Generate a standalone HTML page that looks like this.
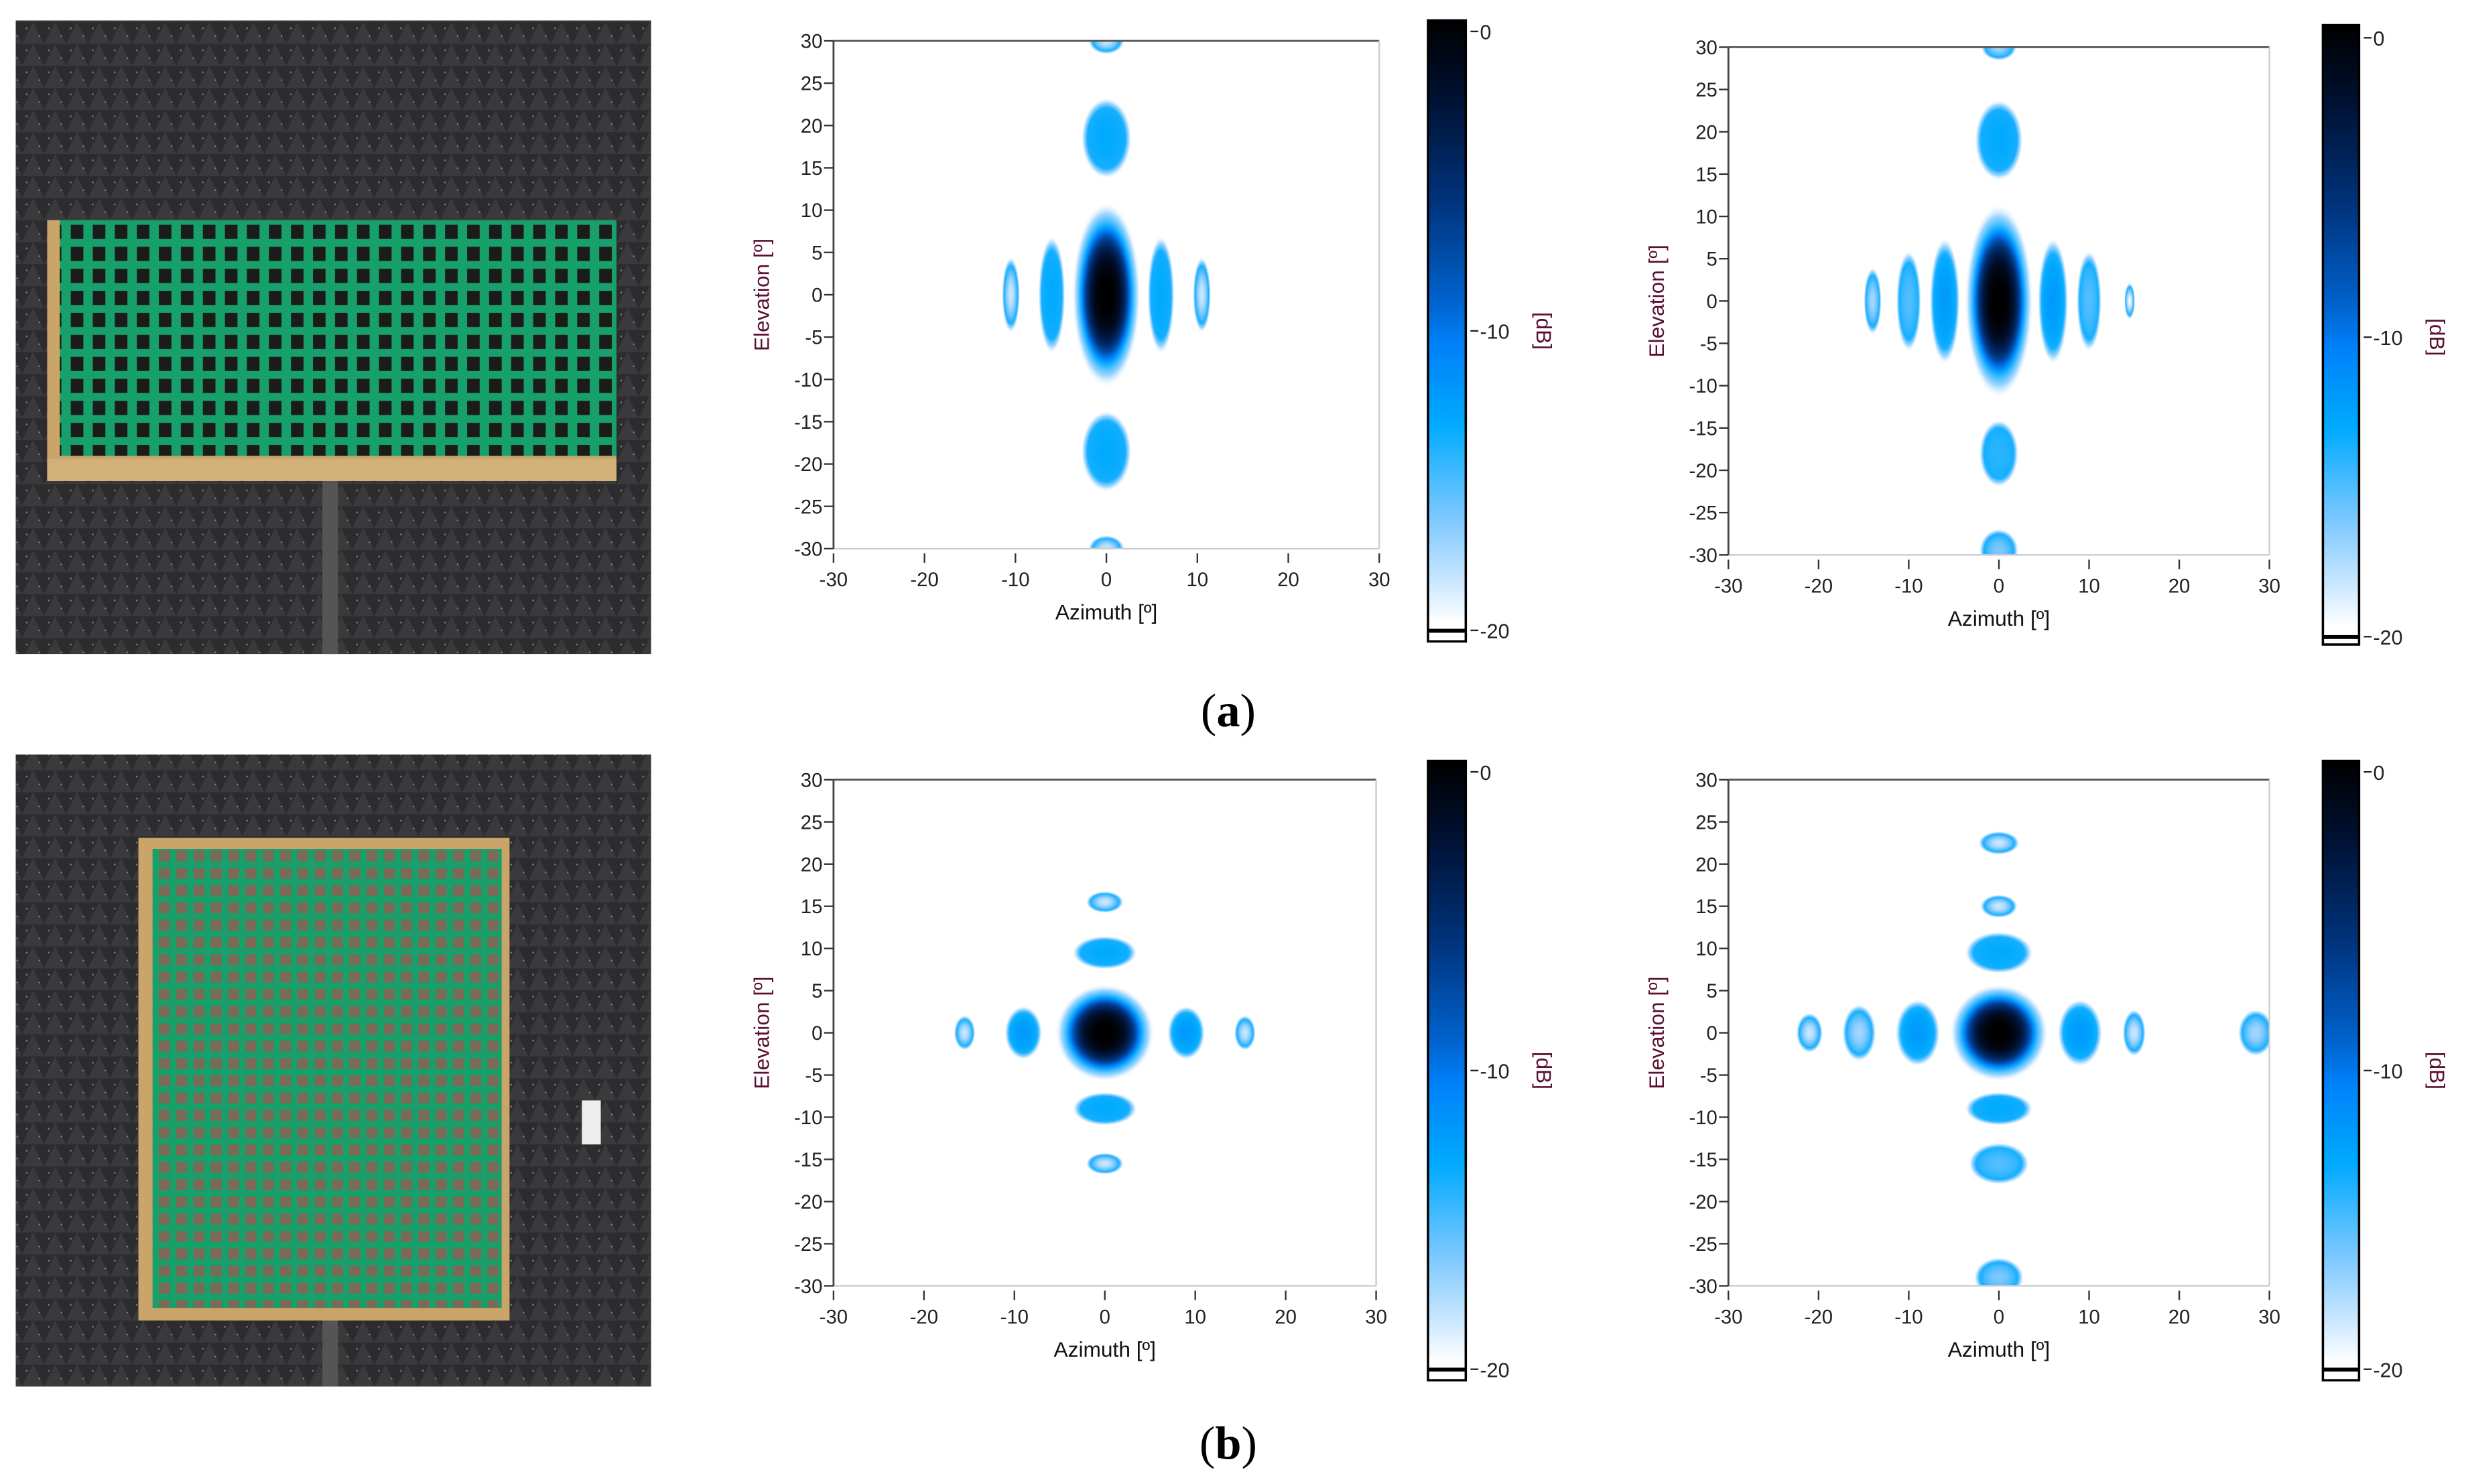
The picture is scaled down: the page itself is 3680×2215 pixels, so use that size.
<!DOCTYPE html>
<html><head><meta charset="utf-8"><style>html,body{margin:0;padding:0;background:#fff}svg{display:block}</style></head>
<body>
<svg id="fig" xmlns="http://www.w3.org/2000/svg" width="3680" height="2215" viewBox="0 0 1568 944" preserveAspectRatio="none" font-family="'Liberation Sans', 'DejaVu Sans', sans-serif">
<defs>
<linearGradient id="cbar" x1="0" y1="0" x2="0" y2="1">
<stop offset="0" stop-color="#000000"/><stop offset="0.12" stop-color="#001030"/><stop offset="0.3" stop-color="#003580"/><stop offset="0.45" stop-color="#0062cc"/><stop offset="0.52" stop-color="#0080f8"/><stop offset="0.65" stop-color="#00aaff"/><stop offset="0.8" stop-color="#7cc8ff"/><stop offset="0.9" stop-color="#c8e6ff"/><stop offset="0.97" stop-color="#ffffff"/>
</linearGradient>
<pattern id="foam" width="14" height="14" patternUnits="userSpaceOnUse"><rect width="14" height="14" fill="#2c2c2e"/><path d="M0 14 L7 0 L14 14" fill="#3a3a3c"/><circle cx="3" cy="4" r="0.6" fill="#777"/><circle cx="11" cy="9" r="0.5" fill="#888"/></pattern>
<pattern id="grid" width="14" height="14" patternUnits="userSpaceOnUse"><rect width="14" height="14" fill="#17a06a"/><rect x="3" y="3" width="8" height="9" fill="#1b1b1b"/></pattern>
<pattern id="gridb" width="11" height="11" patternUnits="userSpaceOnUse"><rect width="11" height="11" fill="#17a06a"/><rect x="2" y="2" width="7" height="7" fill="#7a6a58"/></pattern>
</defs>
<g id="photos">
<g>
<rect x="10" y="13" width="404" height="403" fill="url(#foam)"/>
<rect x="205" y="280" width="10" height="136" fill="#555"/>
<rect x="30" y="140" width="362" height="165" fill="#c9a56a"/>
<rect x="38" y="140" width="354" height="150" fill="url(#grid)"/>
<rect x="30" y="292" width="362" height="14" fill="#d2b07a"/>
</g>
<g>
<rect x="10" y="480" width="404" height="402" fill="url(#foam)"/>
<rect x="205" y="820" width="10" height="62" fill="#555"/>
<rect x="88" y="533" width="236" height="307" fill="#c9a56a"/>
<rect x="97" y="540" width="222" height="292" fill="url(#gridb)"/>
<rect x="370" y="700" width="12" height="28" fill="#eee"/>
</g>
</g>
<g id="charts"></g>
<text x="781" y="462" text-anchor="middle" font-family="'Liberation Serif', serif" font-size="30" fill="#000">(<tspan font-weight="bold">a</tspan>)</text>
<text x="781" y="928" text-anchor="middle" font-family="'Liberation Serif', serif" font-size="30" fill="#000">(<tspan font-weight="bold">b</tspan>)</text>
</svg>
<script>
// data: each lobe = [azimuth, elevation, peak dB, half-width deg, half-height deg]
const xTicks = [-30,-20,-10,0,10,20,30];
const yTicks = [30,25,20,15,10,5,0,-5,-10,-15,-20,-25,-30];
const cbTicks = [0,-10,-20];
const lobesAMid = [[0,0,0,3.8,11],[-6,0,-13,1.5,7],[6,0,-13,1.5,7],[-10.5,0,-18,1,4.5],[10.5,0,-18,1,4.5],[0,18.5,-13,2.8,4.8],[0,-18.5,-13,2.8,4.8],[0,30,-18,2,1.6],[0,-30,-18,2,1.6]];
const lobesARight = [[0,0,0,3.8,11.5],[-6,0,-12,1.7,7.5],[6,0,-12,1.7,7.5],[-10,0,-15,1.4,6],[10,0,-15,1.4,6],[-14,0,-17,1,4],[14.5,0,-19,0.6,2.2],[0,19,-13,2.7,4.8],[0,-18,-14,2.2,4],[0,30,-17,2,1.6],[0,-29.5,-16,2.2,2.6]];
const lobesBMid = [[0,0,0,5.5,5.8],[-9,0,-12,2.1,3.2],[9,0,-12,2.1,3.2],[-15.5,0,-18,1.2,2.1],[15.5,0,-18,1.2,2.1],[0,9.5,-13,3.6,2],[0,-9,-13,3.6,2],[0,15.5,-18,2.1,1.3],[0,-15.5,-18,2.1,1.3]];
const lobesBRight = [[0,0,0,5.5,5.8],[-9,0,-12,2.5,4],[9,0,-12,2.5,4],[-15.5,0,-17,1.9,3.4],[-21,0,-18,1.5,2.4],[15,0,-18,1.3,2.8],[28.5,0,-17,2,2.8],[0,9.5,-13,3.8,2.5],[0,-9,-13,3.8,2],[0,15,-18,2.1,1.4],[0,-15.5,-15,3.4,2.5],[0,22.5,-18,2.3,1.4],[0,-29,-16,2.8,2.4]];
const panels = [
 {name:'a-mid', lobes:lobesAMid, x0:530, x1:877, y0:26, y1:349, cb:[908,13,932,408,20,401]},
 {name:'a-right', lobes:lobesARight, x0:1099, x1:1443, y0:30, y1:353, cb:[1477,16,1500,410,24,405]},
 {name:'b-mid', lobes:lobesBMid, x0:530, x1:875, y0:496, y1:818, cb:[908,484,932,878,491,871]},
 {name:'b-right', lobes:lobesBRight, x0:1099, x1:1443, y0:496, y1:818, cb:[1477,484,1500,878,491,871]}
];
const NS='http://www.w3.org/2000/svg';
const cmapStops=[[0,[0,0,0]],[-2.4,[0,16,48]],[-6,[0,53,128]],[-9,[0,98,204]],[-10.4,[0,128,248]],[-13,[0,170,255]],[-16,[124,200,255]],[-18,[200,230,255]],[-19.4,[255,255,255]]];
function cmap(v){
  for(let i=0;i<cmapStops.length-1;i++){const a=cmapStops[i],b=cmapStops[i+1];
    if(v<=a[0]&&v>=b[0]){const t=(a[0]-v)/(a[0]-b[0]);return 'rgb('+a[1].map((c,k)=>Math.round(c+(b[1][k]-c)*t)).join(',')+')';}}
  return v>0?'rgb(0,0,0)':'rgb(255,255,255)';
}
function el(tag,attrs,parent){const e=document.createElementNS(NS,tag);for(const k in attrs)e.setAttribute(k,attrs[k]);parent.appendChild(e);return e;}
const root=document.getElementById('charts');
const defs=document.querySelector('defs');
let gid=0;
panels.forEach(p=>{
  const xs=v=>p.x0+(v+30)/60*(p.x1-p.x0);
  const ys=v=>p.y1-(v+30)/60*(p.y1-p.y0);
  const g=el('g',{},root);
  
  
  el('rect',{x:p.x0,y:p.y0,width:p.x1-p.x0,height:p.y1-p.y0,fill:'#fff'},g);
  const cp=el('clipPath',{id:'clip'+p.name},defs);
  el('rect',{x:p.x0,y:p.y0,width:p.x1-p.x0,height:p.y1-p.y0},cp);
  const lg=el('g',{'clip-path':'url(#clip'+p.name+')'},g);
  p.lobes.forEach(L=>{
    const id='lg'+(gid++);
    const rg=el('radialGradient',{id:id},defs);
    const edge=-13.5;
    const pw=L[2]>-5?3:2;
    for(let i=0;i<=12;i++){const f=i/12;const t=f*0.75;const v=L[2]+(edge-L[2])*Math.pow(f,pw);
      el('stop',{offset:t.toFixed(3),'stop-color':cmap(v)},rg);}
    el('stop',{offset:'0.87','stop-color':cmap(-16),'stop-opacity':'0.75'},rg);
    el('stop',{offset:'1','stop-color':'#ffffff','stop-opacity':'0'},rg);
    const e=el('ellipse',{cx:xs(L[0]),cy:ys(L[1]),rx:Math.abs(xs(L[3])-xs(0)),ry:Math.abs(ys(L[4])-ys(0)),fill:'url(#'+id+')'},lg);
    
    
  });
  el('line',{x1:p.x0,y1:p.y0,x2:p.x1,y2:p.y0,stroke:'#555','stroke-width':1.2},g);
  el('line',{x1:p.x1,y1:p.y0,x2:p.x1,y2:p.y1,stroke:'#ccc','stroke-width':1},g);
  el('line',{x1:p.x0,y1:p.y1,x2:p.x1,y2:p.y1,stroke:'#ccc','stroke-width':1},g);
  el('line',{x1:p.x0,y1:p.y0,x2:p.x0,y2:p.y1,stroke:'#444','stroke-width':1.2},g);
  xTicks.forEach(v=>{
    el('line',{x1:xs(v),y1:p.y1+3,x2:xs(v),y2:p.y1+9,stroke:'#333','stroke-width':1},g);
    const t=el('text',{x:xs(v),y:p.y1+24,'text-anchor':'middle','font-size':12.5,fill:'#222'},g);
    t.textContent=v;
    
    
  });
  yTicks.forEach(v=>{
    el('line',{x1:p.x0-6,y1:ys(v),x2:p.x0,y2:ys(v),stroke:'#333','stroke-width':1},g);
    const t=el('text',{x:p.x0-7,y:ys(v)+4.5,'text-anchor':'end','font-size':12.5,fill:'#222'},g);
    t.textContent=v;
    
    
  });
  const xt=el('text',{x:(p.x0+p.x1)/2,y:p.y1+45,'text-anchor':'middle','font-size':13.5,fill:'#111'},g);
  xt.textContent='Azimuth [º]';
  
  
  const ym=(p.y0+p.y1)/2;
  const yt=el('text',{x:p.x0-41,y:ym,'text-anchor':'middle','font-size':13.5,fill:'#5a1030',transform:'rotate(-90 '+(p.x0-41)+' '+ym+')'},g);
  yt.textContent='Elevation [º]';
  
  
  const [cx0,cy0,cx1,cy1,t0,t20]=p.cb;
  const cg=el('g',{},g);
  
  
  el('rect',{x:cx0,y:cy0,width:cx1-cx0,height:cy1-cy0,fill:'url(#cbar)',stroke:'#000','stroke-width':1.5},cg);
  el('rect',{x:cx0,y:t20-1,width:cx1-cx0,height:2.5,fill:'#000'},cg);
  el('rect',{x:cx0+1,y:t20+2,width:cx1-cx0-2,height:cy1-t20-3,fill:'#fff'},cg);
  const cs=v=>t0+(v-0)/(-20)*(t20-t0);
  cbTicks.forEach(v=>{
    el('line',{x1:cx1+3,y1:cs(v),x2:cx1+8,y2:cs(v),stroke:'#222','stroke-width':1},cg);
    const t=el('text',{x:cx1+9,y:cs(v)+5,'font-size':13,fill:'#222'},cg);
    t.textContent=v;
    
    
  });
  const lx=cx1+45, ly=cs(-10);
  const ct=el('text',{x:lx,y:ly,'text-anchor':'middle','font-size':13.5,fill:'#5a1030',transform:'rotate(90 '+lx+' '+ly+')'},cg);
  ct.textContent='[dB]';
  
  
});
</script>
</body></html>
